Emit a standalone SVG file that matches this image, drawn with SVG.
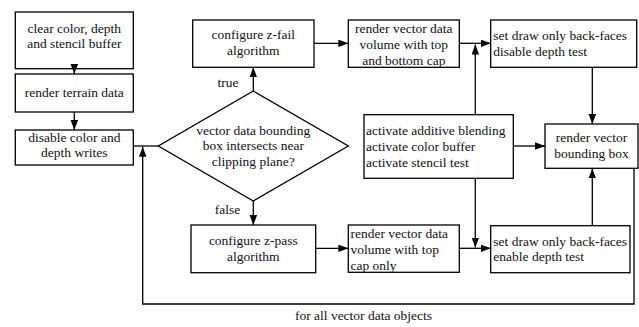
<svg xmlns="http://www.w3.org/2000/svg" width="639" height="327" viewBox="0 0 639 327">
  <style>
    .box { fill: #ffffff; stroke: #000000; stroke-width: 1.3; }
    .lbl { font-family: 'Liberation Serif', 'Times New Roman', Times, 'DejaVu Serif', serif; font-size: 13.5px; fill: #111111; }
    .c { text-anchor: middle; }
    .l { text-anchor: start; }
    .wire { fill: none; stroke: #000000; stroke-width: 1.3; }
    .arrow { marker-end: url(#head); }
  </style>
  <defs>
    <marker id="head" markerUnits="userSpaceOnUse" markerWidth="10" markerHeight="8" refX="10" refY="3.75" orient="auto">
      <path d="M0,0 L10,3.75 L0,7.5 Z" fill="#000000"/>
    </marker>
  </defs>
  <rect width="639" height="327" fill="#ffffff"/>

  <!-- nodes -->
  <g id="clear-buffers">
    <rect class="box" x="15.3" y="12" width="118" height="56.7"/>
    <text class="lbl c" x="74.3" y="32.5">clear color, depth</text>
    <text class="lbl c" x="74.3" y="48">and stencil buffer</text>
  </g>
  <g id="render-terrain">
    <rect class="box" x="15.3" y="74" width="118" height="38"/>
    <text class="lbl c" x="74.3" y="97.3">render terrain data</text>
  </g>
  <g id="disable-writes">
    <rect class="box" x="15.3" y="130" width="118" height="35"/>
    <text class="lbl c" x="74.3" y="141.7">disable color and</text>
    <text class="lbl c" x="74.3" y="157.3">depth writes</text>
  </g>
  <g id="intersect-test">
    <polygon class="box" points="253.3,91 348.3,146 253.3,201 158.3,146"/>
    <text class="lbl c" x="253.3" y="134.5">vector data bounding</text>
    <text class="lbl c" x="253.3" y="150">box intersects near</text>
    <text class="lbl c" x="253.3" y="166">clipping plane?</text>
  </g>
  <g id="z-fail">
    <rect class="box" x="192.7" y="20" width="121.3" height="47.3"/>
    <text class="lbl c" x="253.3" y="39.3">configure z-fail</text>
    <text class="lbl c" x="253.3" y="55.3">algorithm</text>
  </g>
  <g id="z-pass">
    <rect class="box" x="191" y="225" width="124.7" height="47.7"/>
    <text class="lbl c" x="253.3" y="245">configure z-pass</text>
    <text class="lbl c" x="253.3" y="261">algorithm</text>
  </g>
  <g id="volume-both-caps">
    <rect class="box" x="348.3" y="20" width="111" height="47.3"/>
    <text class="lbl c" x="403.8" y="32.8">render vector data</text>
    <text class="lbl c" x="403.8" y="48.8">volume with top</text>
    <text class="lbl c" x="403.8" y="65">and bottom cap</text>
  </g>
  <g id="volume-top-cap">
    <rect class="box" x="348.3" y="225" width="111" height="47.3"/>
    <text class="lbl l" x="350.5" y="237.8">render vector data</text>
    <text class="lbl l" x="350.5" y="253.8">volume with top</text>
    <text class="lbl l" x="350.5" y="269.5">cap only</text>
  </g>
  <g id="activate-state">
    <rect class="box" x="364" y="114.7" width="149.3" height="63.6"/>
    <text class="lbl l" x="366" y="134.5">activate additive blending</text>
    <text class="lbl l" x="366" y="150.5">activate color buffer</text>
    <text class="lbl l" x="366" y="166.5">activate stencil test</text>
  </g>
  <g id="back-faces-no-depth">
    <rect class="box" x="490.7" y="20" width="146" height="47.3"/>
    <text class="lbl l" x="493.3" y="40">set draw only back-faces</text>
    <text class="lbl l" x="493.3" y="56">disable depth test</text>
  </g>
  <g id="back-faces-depth">
    <rect class="box" x="490.7" y="225.7" width="139.3" height="47"/>
    <text class="lbl l" x="493.3" y="245.5">set draw only back-faces</text>
    <text class="lbl l" x="493.3" y="261">enable depth test</text>
  </g>
  <g id="bounding-box">
    <rect class="box" x="545" y="124" width="93" height="44.3"/>
    <text class="lbl c" x="591.5" y="142">render vector</text>
    <text class="lbl c" x="591.5" y="158">bounding box</text>
  </g>

  <!-- connectors -->
  <g id="connectors">
    <line class="wire arrow" x1="74.3" y1="68.7" x2="74.3" y2="74"/>
    <line class="wire arrow" x1="74.3" y1="112" x2="74.3" y2="130"/>
    <line class="wire" x1="133.3" y1="146" x2="158.3" y2="146"/>
    <line class="wire arrow" x1="253.3" y1="91" x2="253.3" y2="67.3"/>
    <line class="wire arrow" x1="253.3" y1="201" x2="253.3" y2="225"/>
    <line class="wire arrow" x1="314" y1="43.3" x2="348.3" y2="43.3"/>
    <line class="wire arrow" x1="315.7" y1="248.3" x2="348.3" y2="248.3"/>
    <line class="wire arrow" x1="459.3" y1="43.3" x2="490.7" y2="43.3"/>
    <line class="wire arrow" x1="459.3" y1="248.3" x2="490.7" y2="248.3"/>
    <line class="wire arrow" x1="475.3" y1="114.7" x2="475.3" y2="44.5"/>
    <line class="wire arrow" x1="475.3" y1="178.3" x2="475.3" y2="247.5"/>
    <line class="wire arrow" x1="513.3" y1="146" x2="545" y2="146"/>
    <line class="wire arrow" x1="592.3" y1="67.3" x2="592.3" y2="124"/>
    <line class="wire arrow" x1="592.3" y1="225.7" x2="592.3" y2="168.3"/>
    <polyline class="wire arrow" points="634,168.3 634,304 142.7,304 142.7,146.8"/>
    <text class="lbl c" x="228" y="87">true</text>
    <text class="lbl c" x="227.5" y="214">false</text>
    <text class="lbl c" x="363.5" y="320">for all vector data objects</text>
  </g>
</svg>
